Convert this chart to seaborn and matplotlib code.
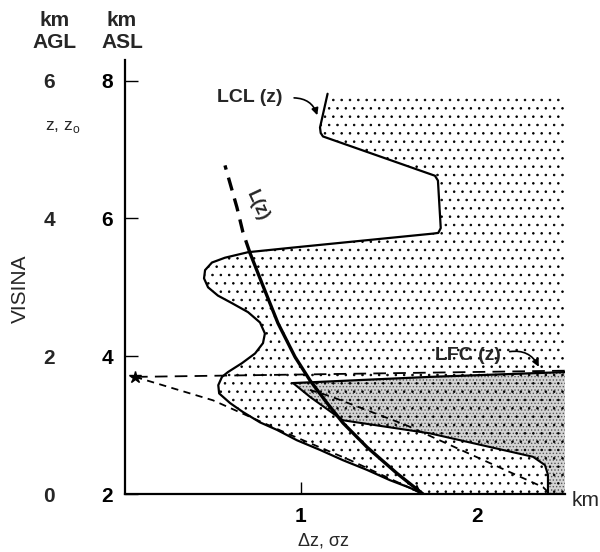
import numpy as np
import pandas as pd
import matplotlib
matplotlib.use("Agg")
import matplotlib.pyplot as plt
import seaborn as sns

# ---- axes ----
asl_ticks = [2, 4, 6, 8]          # km above sea level
agl_ticks = [0, 2, 4, 6]          # km above ground level
dist_ticks = [1, 2]               # km
x_max, y_min, y_max = 2.5, 2.0, 8.3
stipple_top = 7.75

# ---- LCL(z) profile, continued as the lower edge of the dotted zone ----
lcl_x = [1.151, 1.108, 1.112, 1.125, 1.761, 1.778, 1.794, 1.780, 1.750,
         0.966, 0.699, 0.568, 0.494, 0.455, 0.449, 0.472, 0.528, 0.608,
         0.699, 0.767, 0.795, 0.784, 0.739, 0.665, 0.585, 0.551, 0.530,
         0.535, 0.597, 0.670, 0.767, 0.864, 0.977, 1.108, 1.239, 1.375,
         1.506, 1.619, 1.693]
lcl_y = [7.81, 7.32, 7.24, 7.19, 6.62, 6.55, 5.86, 5.79, 5.78,
         5.58, 5.51, 5.43, 5.36, 5.25, 5.13, 5.00, 4.88, 4.77,
         4.64, 4.49, 4.33, 4.19, 4.04, 3.90, 3.77, 3.70, 3.58,
         3.46, 3.32, 3.19, 3.04, 2.93, 2.78, 2.64, 2.49, 2.35,
         2.20, 2.09, 2.00]

# ---- L(z): solid lower part and dashed upper part ----
lz_x = [1.693, 1.545, 1.375, 1.239, 1.148, 1.051, 0.966, 0.869, 0.778, 0.710]
lz_y = [2.00, 2.30, 2.68, 3.03, 3.32, 3.65, 3.99, 4.48, 5.06, 5.50]
lz_up_x = [0.710, 0.670, 0.636, 0.597, 0.568]
lz_up_y = [5.50, 5.80, 6.16, 6.51, 6.77]

# ---- LFC(z) and the lower edge of the dense stipple zone ----
lfc_x = [0.955, 1.733, 2.5]
lfc_y = [3.61, 3.70, 3.77]
dense_x = [0.955, 1.051, 1.182, 1.239, 1.733, 2.318, 2.386, 2.403, 2.403]
dense_y = [3.61, 3.41, 3.17, 3.07, 2.88, 2.54, 2.42, 2.28, 2.00]

# ---- source point and dashed profiles ----
src_x, src_y = 0.057, 3.70
hdash_x = [0.057, 2.5]
hdash_y = [3.70, 3.79]
diag_x = [0.057, 0.50, 0.92, 1.28, 1.693]
diag_y = [3.70, 3.36, 2.88, 2.49, 2.00]
inner_x = [1.05, 1.165, 1.597, 2.375, 2.415]
inner_y = [3.51, 3.42, 3.00, 2.10, 2.00]

sns.set_theme(style="white")
plt.rcParams["font.family"] = ["Liberation Sans", "DejaVu Sans"]
plt.rcParams["mathtext.fontset"] = "custom"
plt.rcParams["mathtext.rm"] = "Liberation Sans"
plt.rcParams["hatch.linewidth"] = 0.6

fig = plt.figure(figsize=(6.0, 5.52), dpi=100)
ax = fig.add_axes([125 / 600, 58 / 552, 440 / 600, 434 / 552])
ax.set_xlim(0, x_max)
ax.set_ylim(y_min, y_max)

# dotted zone right of LCL(z)
x_top = np.interp(stipple_top, [lcl_y[1], lcl_y[0]], [lcl_x[1], lcl_x[0]])
light_x = [x_top] + lcl_x[1:] + [x_max, x_max]
light_y = [stipple_top] + lcl_y[1:] + [y_min, stipple_top]
ax.fill(light_x, light_y, facecolor="white", edgecolor="black", lw=0,
        hatch="..", zorder=1)

# dense stipple zone below LFC(z): fine grey screen plus the coarse dots
dz_x = lfc_x + [x_max] + dense_x[::-1]
dz_y = lfc_y + [y_min] + dense_y[::-1]
ax.fill(dz_x, dz_y, facecolor="#d4d4d4", edgecolor="#555555", lw=0,
        hatch=".....", zorder=1.5)
ax.fill(dz_x, dz_y, facecolor="none", edgecolor="black", lw=0,
        hatch="..", zorder=1.6)

def curve(x, y, **kw):
    sns.lineplot(data=pd.DataFrame({"x": x, "y": y}), x="x", y="y",
                 sort=False, estimator=None, ax=ax, color="black",
                 solid_joinstyle="round", **kw)

curve(lcl_x, lcl_y, lw=1.6, zorder=3)
curve(lz_x, lz_y, lw=2.4, zorder=4)
curve(lz_up_x, lz_up_y, lw=2.4, ls=(0, (4, 2.5)), zorder=4)
curve(lfc_x, lfc_y, lw=1.6, zorder=3)
curve(dense_x, dense_y, lw=1.5, zorder=3)
curve(hdash_x, hdash_y, lw=1.3, ls=(0, (7, 4)), zorder=3)
curve(diag_x, diag_y, lw=1.3, ls=(0, (4, 3)), zorder=3)
curve(inner_x, inner_y, lw=1.3, ls=(0, (4, 3)), zorder=3)

ax.plot([src_x], [src_y], marker="*", ms=9, color="black", zorder=5)
ax.annotate("", xy=(lz_x[0], lz_y[0]), xytext=(lz_x[1], lz_y[1]),
            arrowprops=dict(arrowstyle="-|>", color="black", lw=0,
                            mutation_scale=14), zorder=5)

# labels on the curves
ax.text(0.523, 7.75, "LCL (z)", fontsize=14, fontweight="bold",
        ha="left", va="center")
ax.annotate("", xy=(1.097, 7.46), xytext=(0.945, 7.75),
            arrowprops=dict(arrowstyle="-|>", color="black", lw=1.2,
                            mutation_scale=10,
                            connectionstyle="arc3,rad=-0.4"))
ax.text(1.761, 4.01, "LFC (z)", fontsize=14, fontweight="bold",
        ha="left", va="center")
ax.annotate("", xy=(2.358, 3.81), xytext=(2.17, 4.06),
            arrowprops=dict(arrowstyle="-|>", color="black", lw=1.2,
                            mutation_scale=10,
                            connectionstyle="arc3,rad=-0.4"))
ax.text(0.75, 6.19, "L(z)", fontsize=13, fontweight="bold",
        rotation=-65, ha="center", va="center", rotation_mode="anchor")

# axes styling
for side in ("top", "right"):
    ax.spines[side].set_visible(False)
for side in ("left", "bottom"):
    ax.spines[side].set_linewidth(1.6)
    ax.spines[side].set_color("black")
ax.set_yticks(asl_ticks)
ax.set_xticks(dist_ticks)
ax.set_yticklabels([str(v) for v in asl_ticks])
ax.set_xticklabels([str(v) for v in dist_ticks])
ax.tick_params(axis="y", direction="in", length=9.5, width=1.0, pad=8.5,
               labelsize=15, colors="black", left=True)
ax.tick_params(axis="x", direction="in", length=8.5, width=1.0, pad=9,
               labelsize=15, colors="black", bottom=True)
for lab in ax.get_yticklabels() + ax.get_xticklabels():
    lab.set_fontweight("bold")
ax.set_xlabel("")
ax.set_ylabel("")

# height above ground, second scale on the left
sec = ax.secondary_yaxis(-0.159, functions=(lambda z: z - 2, lambda a: a + 2))
sec.set_yticks(agl_ticks)
sec.set_yticklabels([str(v) for v in agl_ticks])
sec.spines["left"].set_visible(False)
sec.tick_params(axis="y", length=0, pad=0, labelsize=15)
for lab in sec.get_yticklabels():
    lab.set_fontweight("bold")

def ftext(px, py, s, **kw):
    fig.text(px / 600, 1 - py / 552, s, **kw)

ftext(55, 21, "km", fontsize=15, fontweight="bold", ha="center", va="center")
ftext(55, 43, "AGL", fontsize=15, fontweight="bold", ha="center", va="center")
ftext(122, 21, "km", fontsize=15, fontweight="bold", ha="center", va="center")
ftext(122, 43, "ASL", fontsize=15, fontweight="bold", ha="center", va="center")
ftext(45, 127, r"z, z$_{\mathregular{o}}$", fontsize=12.5, ha="left", va="center")
ftext(20, 289, "VISINA", fontsize=15, rotation=90, ha="center", va="center")
ftext(323, 541, "Δz, σz", fontsize=13, ha="center", va="center")
ftext(572, 500, "km", fontsize=15, ha="left", va="center")

fig.savefig("out.png", dpi=100)
